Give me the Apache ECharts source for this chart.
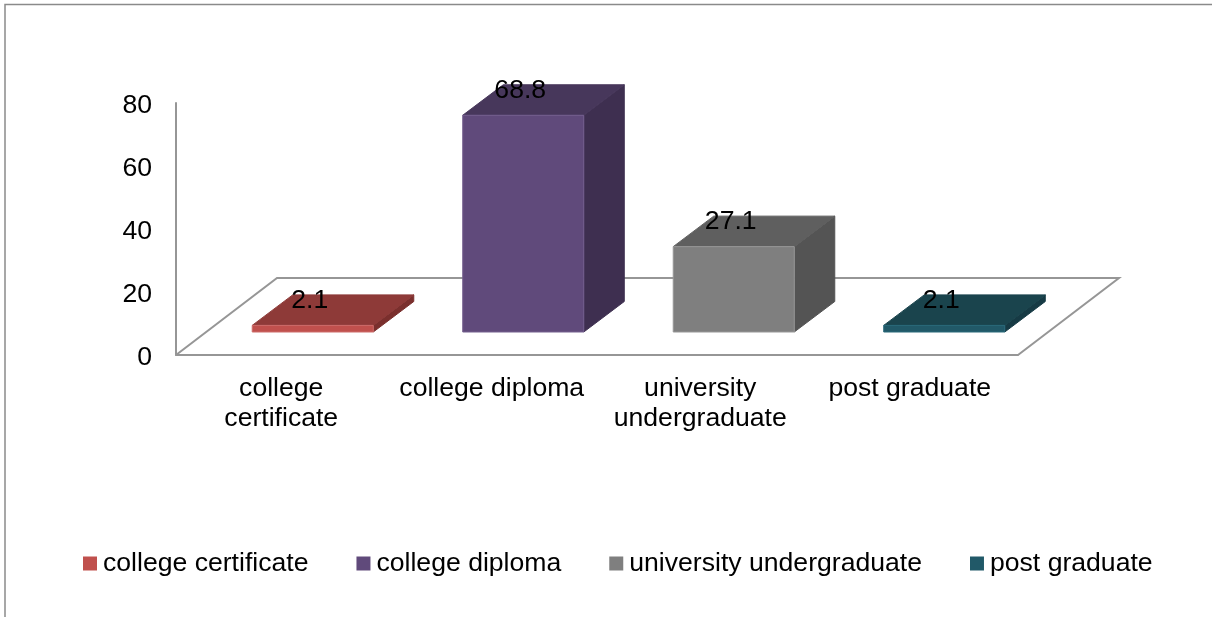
<!DOCTYPE html>
<html>
<head>
<meta charset="utf-8">
<style>html,body{margin:0;padding:0;background:#fff}#chart{width:1212px;height:617px}</style>
<script src="https://cdn.jsdelivr.net/npm/echarts@6/dist/echarts.min.js"></script>
</head>
<body>
<div id="chart"></div>
<script>
// Education level shares, shown as extruded columns on a perspective floor.
const categories = ['college certificate', 'college diploma', 'university undergraduate', 'post graduate'];
const axisLabels = ['college\ncertificate', 'college diploma', 'university\nundergraduate', 'post graduate'];
const values = [2.1, 68.8, 27.1, 2.1];
const yTicks = { min: 0, max: 80, interval: 20 };

// Face shades per column: front, top, side, edge.
const frontColors = ['#C0504D', '#604A7B', '#7F7F7F', '#215968'];
const topColors = ['#8E3A38', '#47375B', '#5F5F5F', '#1A444D'];
const sideColors = ['#7A2F2D', '#3E2F50', '#545454', '#163A44'];
const edgeColors = ['#CE6D6A', '#75608F', '#989898', '#2A6A7B'];

// Oblique projection used for the floor and the columns.
const FLOOR_DX = 101, FLOOR_DY = 77;
const INSET_DX = 31.5, INSET_DY = 23;
const BAR_DX = 40.5, BAR_DY = 30.5;
const BAR_RATIO = 0.575;
const LABEL_SHIFT = -3, LABEL_RISE = 25;
const FONT_SIZE = 26.6;
const FONT = '"Liberation Sans", Arial, sans-serif';
const AXIS_GRAY = '#969696';

// Right padding per category label, leaning the later labels slightly left.
const labelPadRight = [0, 0, 4, 6];
const labelRich = {};
labelPadRight.forEach((pad, i) => {
  labelRich['c' + i] = {
    color: '#000',
    fontSize: FONT_SIZE,
    fontFamily: FONT,
    lineHeight: 30,
    padding: [0, pad, 0, 0]
  };
});

function poly(points, fill, stroke) {
  return {
    type: 'polygon',
    shape: { points },
    style: { fill, stroke: stroke || fill, lineWidth: 1 }
  };
}

function renderColumn(params, api) {
  const i = api.value(0);
  const base = api.coord([i, 0]);
  const head = api.coord([i, api.value(1)]);
  const w = api.size([1, 0])[0] * BAR_RATIO;
  const l = base[0] + INSET_DX - w / 2, r = l + w;
  const b = base[1] - INSET_DY, t = head[1] - INSET_DY;
  return {
    type: 'group',
    children: [
      poly([[r, b], [r + BAR_DX, b - BAR_DY], [r + BAR_DX, t - BAR_DY], [r, t]], sideColors[i]),
      poly([[l, t], [r, t], [r + BAR_DX, t - BAR_DY], [l + BAR_DX, t - BAR_DY]], topColors[i]),
      poly([[l, b], [r, b], [r, t], [l, t]], frontColors[i], edgeColors[i]),
      {
        type: 'text',
        z2: 10,
        style: {
          x: base[0] + INSET_DX + LABEL_SHIFT,
          y: t - LABEL_RISE,
          text: String(values[i]),
          fill: '#000',
          font: FONT_SIZE + 'px ' + FONT,
          align: 'center',
          verticalAlign: 'middle'
        }
      }
    ]
  };
}

function renderFloor(params) {
  const c = params.coordSys;
  const x0 = c.x, x1 = c.x + c.width, y = c.y + c.height;
  return {
    type: 'polyline',
    shape: { points: [[x0, y], [x0 + FLOOR_DX, y - FLOOR_DY], [x1 + FLOOR_DX, y - FLOOR_DY], [x1, y]] },
    style: { fill: 'none', stroke: AXIS_GRAY, lineWidth: 2 }
  };
}

const chart = echarts.init(document.getElementById('chart'), null, { renderer: 'canvas' });

chart.setOption({
  backgroundColor: '#fff',
  animation: false,
  graphic: [{
    type: 'polyline',
    silent: true,
    shape: { points: [[5, 617], [5, 4.5], [1212, 4.5]] },
    style: { fill: 'none', stroke: '#8a8a8a', lineWidth: 1.5 }
  }],
  grid: { left: 176, top: 103, width: 842, height: 252 },
  xAxis: {
    type: 'category',
    data: axisLabels,
    axisTick: { show: false },
    axisLine: { lineStyle: { color: AXIS_GRAY, width: 2 } },
    axisLabel: {
      interval: 0,
      margin: 18.5,
      rich: labelRich,
      formatter: (text, i) => text.split('\n').map(line => `{c${i}|${line}}`).join('\n')
    }
  },
  yAxis: {
    type: 'value',
    min: yTicks.min,
    max: yTicks.max,
    interval: yTicks.interval,
    splitLine: { show: false },
    axisTick: { show: false },
    axisLine: { show: true, lineStyle: { color: AXIS_GRAY, width: 2 } },
    axisLabel: {
      margin: 24,
      formatter: '{t|{value}}',
      rich: { t: { color: '#000', fontSize: FONT_SIZE, fontFamily: FONT, padding: [6, 0, 0, 0] } }
    }
  },
  legend: {
    left: 78,
    top: 545,
    itemWidth: 14,
    itemHeight: 14,
    itemGap: 48,
    icon: 'rect',
    selectedMode: false,
    data: categories,
    textStyle: { color: '#000', fontSize: FONT_SIZE, fontFamily: FONT, padding: [0, 0, 0, 1] }
  },
  series: [
    { type: 'custom', name: 'floor', silent: true, z: 1, data: [0], renderItem: renderFloor },
    ...categories.map((name, i) => ({
      type: 'custom',
      name,
      z: 3,
      silent: true,
      itemStyle: { color: frontColors[i] },
      encode: { x: 0, y: 1 },
      data: [[i, values[i]]],
      renderItem: renderColumn
    }))
  ]
});
</script>
</body>
</html>
